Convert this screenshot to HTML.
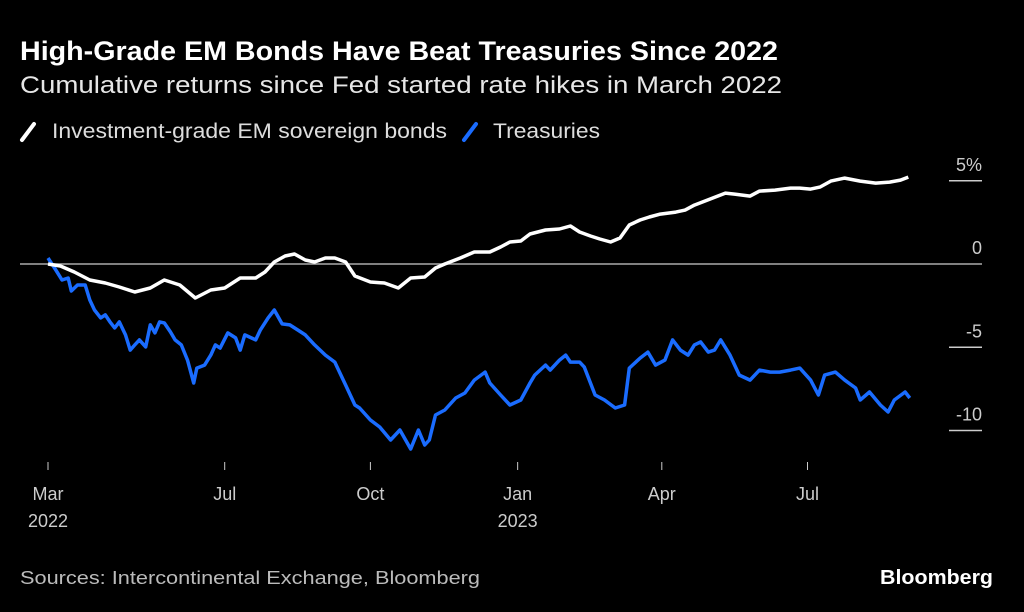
<!DOCTYPE html>
<html><head><meta charset="utf-8"><style>
html,body{margin:0;padding:0;background:#000;}
svg{display:block;font-family:"Liberation Sans",sans-serif;}
</style></head><body>
<svg id="chart" width="1024" height="612" viewBox="0 0 1024 612">
<rect width="1024" height="612" fill="#000"/>
<text x="20" y="60" fill="#fff" font-size="27" font-weight="bold" textLength="758" lengthAdjust="spacingAndGlyphs">High-Grade EM Bonds Have Beat Treasuries Since 2022</text>
<text x="20" y="93" fill="#e6e6e6" font-size="24" textLength="762" lengthAdjust="spacingAndGlyphs">Cumulative returns since Fed started rate hikes in March 2022</text>
<g>
<g>
<line x1="22" y1="140" x2="34" y2="124" stroke="#fff" stroke-width="4" stroke-linecap="round"/>
<text x="52" y="138" fill="#ddd" font-size="21" textLength="395" lengthAdjust="spacingAndGlyphs">Investment-grade EM sovereign bonds</text>
</g>
<g>
<line x1="464" y1="140" x2="476" y2="124" stroke="#1a6cff" stroke-width="4" stroke-linecap="round"/>
<text x="493" y="138" fill="#ddd" font-size="21" textLength="107" lengthAdjust="spacingAndGlyphs">Treasuries</text>
</g>
</g>
<g id="axes"></g>
<g id="series"></g>
<text x="20" y="584" fill="#bbb" font-size="18" textLength="460" lengthAdjust="spacingAndGlyphs">Sources: Intercontinental Exchange, Bloomberg</text>
<text x="993" y="584" fill="#fff" font-size="20" font-weight="bold" text-anchor="end" textLength="113" lengthAdjust="spacingAndGlyphs">Bloomberg</text>
</svg>
<script>
const yTicks = [5, 0, -5, -10];
const yTickLabels = ["5%", "0", "-5", "-10"];
const xTickDays = [0, 114, 208, 303, 396, 490];
const xTickLabels = [["Mar","2022"],["Jul",""],["Oct",""],["Jan","2023"],["Apr",""],["Jul",""]];
const emDays = [0,8,17,27,37,46,56,66,75,85,95,105,114,124,134,140,146,153,159,166,172,179,185,192,198,208,217,226,234,243,250,256,266,275,285,292,298,305,311,321,330,337,343,350,356,363,369,375,382,388,395,405,411,417,427,437,443,453,459,469,479,485,492,498,505,514,524,534,543,550,555];
const emValues = [0,-0.12,-0.48,-0.96,-1.14,-1.38,-1.68,-1.44,-0.96,-1.26,-2.04,-1.56,-1.44,-0.84,-0.84,-0.48,0.12,0.48,0.6,0.24,0.12,0.36,0.36,0.12,-0.72,-1.08,-1.14,-1.44,-0.84,-0.78,-0.24,0,0.36,0.72,0.72,1.02,1.32,1.38,1.8,2.04,2.1,2.28,1.92,1.68,1.5,1.32,1.56,2.34,2.64,2.82,3.0,3.12,3.24,3.54,3.9,4.26,4.2,4.08,4.38,4.44,4.56,4.56,4.5,4.62,4.98,5.16,4.98,4.86,4.92,5.04,5.22];
const tsyDays = [0,5,9,13,15,19,24,27,30,34,37,40,43,46,50,53,56,59,63,66,69,72,75,79,82,86,90,94,96,101,105,108,111,116,121,124,127,134,137,142,146,151,156,161,166,172,179,185,192,198,201,208,214,221,227,234,239,243,246,250,256,263,269,275,282,285,292,298,305,311,314,321,324,330,334,337,343,346,353,359,366,372,375,382,387,392,398,403,408,413,417,421,426,430,434,440,446,453,459,466,472,479,485,492,497,501,508,514,521,524,530,537,542,546,553,556];
const tsyValues = [0.36,-0.36,-0.96,-0.84,-1.62,-1.26,-1.26,-2.16,-2.76,-3.24,-3.06,-3.48,-3.84,-3.48,-4.26,-5.17,-4.86,-4.56,-4.98,-3.66,-4.14,-3.48,-3.54,-4.08,-4.56,-4.86,-5.77,-7.15,-6.25,-6.07,-5.47,-4.86,-5.05,-4.14,-4.44,-5.17,-4.26,-4.56,-3.96,-3.24,-2.76,-3.6,-3.66,-3.96,-4.26,-4.86,-5.47,-5.89,-7.27,-8.47,-8.65,-9.37,-9.79,-10.57,-9.97,-11.11,-9.97,-10.87,-10.57,-9.07,-8.77,-8.05,-7.75,-6.97,-6.49,-7.15,-7.87,-8.47,-8.17,-7.15,-6.67,-6.07,-6.37,-5.77,-5.47,-5.89,-5.89,-6.19,-7.87,-8.17,-8.65,-8.47,-6.25,-5.65,-5.29,-6.07,-5.77,-4.56,-5.17,-5.47,-4.86,-4.68,-5.29,-5.17,-4.56,-5.47,-6.67,-6.97,-6.37,-6.49,-6.49,-6.37,-6.25,-6.97,-7.87,-6.67,-6.49,-6.97,-7.45,-8.17,-7.69,-8.47,-8.89,-8.17,-7.69,-8.05];

const NS = "http://www.w3.org/2000/svg";
function xScale(d){ return 48 + d * 1.55; }
function yScale(v){ return 264 - v * 16.65; }
const axes = document.getElementById('axes');
const series = document.getElementById('series');

yTicks.forEach((t, i) => {
  const y = yScale(t);
  const ln = document.createElementNS(NS, 'line');
  
  
  ln.setAttribute('x1', t === 0 ? 20 : 949); ln.setAttribute('x2', 982);
  ln.setAttribute('y1', y); ln.setAttribute('y2', y);
  ln.setAttribute('stroke', t === 0 ? '#aaa' : '#ccc'); ln.setAttribute('stroke-width', 1.5);
  axes.appendChild(ln);
  const tx = document.createElementNS(NS, 'text');
  
  
  tx.setAttribute('x', 982); tx.setAttribute('y', y - 10);
  tx.setAttribute('text-anchor', 'end'); tx.setAttribute('fill', '#ccc'); tx.setAttribute('font-size', 18);
  tx.textContent = yTickLabels[i];
  axes.appendChild(tx);
});

xTickDays.forEach((d, i) => {
  const x = xScale(d);
  const ln = document.createElementNS(NS, 'line');
  
  
  ln.setAttribute('x1', x); ln.setAttribute('x2', x);
  ln.setAttribute('y1', 462); ln.setAttribute('y2', 470);
  ln.setAttribute('stroke', '#ccc'); ln.setAttribute('stroke-width', 1);
  axes.appendChild(ln);
  xTickLabels[i].forEach((lab, j) => {
    if (!lab) return;
    const tx = document.createElementNS(NS, 'text');
    
    
    tx.setAttribute('x', x); tx.setAttribute('y', 500 + j * 27);
    tx.setAttribute('text-anchor', 'middle'); tx.setAttribute('fill', '#ccc'); tx.setAttribute('font-size', 18);
    tx.textContent = lab;
    axes.appendChild(tx);
  });
});

function drawLine(days, vals, color, name){
  const n = Math.min(days.length, vals.length);
  let dstr = '';
  for (let i = 0; i < n; i++) dstr += (i ? 'L' : 'M') + xScale(days[i]).toFixed(1) + ',' + yScale(vals[i]).toFixed(1);
  const p = document.createElementNS(NS, 'path');
  
  
  p.setAttribute('d', dstr);
  p.setAttribute('fill', 'none'); p.setAttribute('stroke', color);
  p.setAttribute('stroke-width', 3.5); p.setAttribute('stroke-linejoin', 'round');
  series.appendChild(p);
}
drawLine(tsyDays, tsyValues, '#1a6cff', 'treasuries-line');
drawLine(emDays, emValues, '#ffffff', 'em-bonds-line');
</script>
</body></html>
